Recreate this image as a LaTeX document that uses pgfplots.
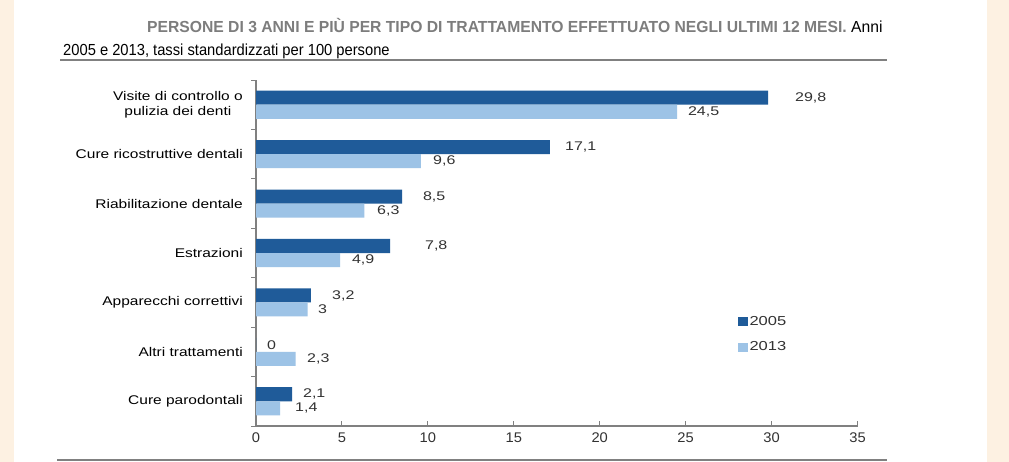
\documentclass[border=0pt]{standalone}
\usepackage{fontspec}
\setmainfont{Liberation Sans}
\newfontfamily\labfont[FakeStretch=1.23]{Liberation Sans}
\newfontfamily\valfont[FakeStretch=1.27]{Liberation Sans}
\newfontfamily\tickfont[FakeStretch=1.05]{Liberation Sans}
\newfontfamily\titfont[FakeStretch=0.98]{Liberation Sans}
\newfontfamily\subfont[FakeStretch=0.92]{Liberation Sans}
\usepackage{pgfplots}
\pgfplotsset{compat=1.18}
\usepackage{pgfplotstable}
\definecolor{darkbar}{RGB}{31,91,153}
\definecolor{lightbar}{RGB}{157,195,230}
\definecolor{cream}{RGB}{253,241,226}
\definecolor{rulegray}{RGB}{128,128,128}
\definecolor{labgray}{RGB}{50,50,50}
\definecolor{titgray}{RGB}{125,125,125}

\pgfplotstableread{
y v
0 2.1
1 0
2 3.2
3 7.8
4 8.5
5 17.1
6 29.8
}\datadue

\pgfplotstableread{
y v
0 1.4
1 2.3
2 3.0
3 4.9
4 6.3
5 9.6
6 24.5
}\datatre

\pgfplotstableread{
x y lab
2.73 0.142 2,1
0.64 1.142 0
4.42 2.142 3,2
9.83 3.142 7,8
9.71 4.142 8,5
17.98 5.142 17,1
31.36 6.142 29,8
}\labdue

\pgfplotstableread{
x y lab
2.27 -0.142 1,4
2.97 0.858 2,3
3.61 1.858 3
5.58 2.858 4,9
7.04 3.858 6,3
10.30 4.858 9,6
25.13 5.858 24,5
}\labtre

\begin{document}
\begin{tikzpicture}[x=1pt,y=1pt]
\fill[cream] (0,0) rectangle (1009,-462);
\fill[white] (14,0) rectangle (987,-462);
\node[anchor=base west, inner sep=0pt, font=\titfont\fontsize{16}{19}\selectfont] at (147,-33)
  {\textcolor{titgray}{\bfseries PERSONE DI 3 ANNI E PIÙ PER TIPO DI TRATTAMENTO EFFETTUATO NEGLI ULTIMI 12 MESI.} Anni};
\node[anchor=base west, inner sep=0pt, font=\subfont\fontsize{16}{19}\selectfont] at (63,-56)
  {2005 e 2013, tassi standardizzati per 100 persone};
\draw[rulegray, line width=2pt] (60,-60) -- (887,-60);
\draw[rulegray, line width=2pt] (57,-460) -- (887,-460);

\begin{axis}[
  at={(256pt,-426pt)}, anchor=south west,
  width=601.5pt, height=346pt, scale only axis,
  xmin=0, xmax=35, ymin=-0.5, ymax=6.5,
  axis lines*=left,
  axis line style={rulegray, line width=1.3pt},
  tick align=inside,
  major tick length=5pt,
  every tick/.style={rulegray, line width=1pt},
  xtick={0,5,...,35},
  ytick={-0.5,0.5,...,6.5},
  yticklabels={},
  ytick style={xshift=-5pt},
  extra y ticks={0,1,2,3,4,5,6},
  extra y tick labels={{Cure parodontali},{Altri trattamenti},{Apparecchi correttivi},{Estrazioni},{Riabilitazione dentale},{Cure ricostruttive dentali},{Visite di controllo o\\pulizia dei denti}},
  extra y tick style={major tick length=0pt, yticklabel style={align=center, inner sep=0pt, xshift=-13pt, font=\labfont\fontsize{12.6}{15}\selectfont, text=black}},
  /pgf/number format/assume math mode=true,
  xticklabel style={font=\tickfont\fontsize{14}{16}\selectfont, text=labgray, yshift=-3pt},
  legend style={at={(0.801,0.322)}, anchor=north west, draw=none, fill=none,
    inner sep=0pt, row sep=12pt, font=\valfont\fontsize{13}{15}\selectfont, text=labgray,
    nodes={inner sep=1.5pt, xshift=2pt}},
  legend cell align=left,
  legend image code/.code={\fill[#1] (0pt,-4.5pt) rectangle (10pt,4.5pt);},
]
\addplot[xbar, bar width=0.284, bar shift=0.142, fill=darkbar, draw=none] table[x=v,y=y] {\datadue};
\addlegendentry{2005}
\addplot[xbar, bar width=0.284, bar shift=-0.142, fill=lightbar, draw=none] table[x=v,y=y] {\datatre};
\addlegendentry{2013}
\addplot[only marks, mark=none, forget plot, nodes near coords, point meta=explicit symbolic,
  nodes near coords align={anchor=west},
  every node near coord/.append style={anchor=west, inner sep=0pt, font=\valfont\fontsize{12.6}{15}\selectfont, text=labgray}]
  table[x=x,y=y,meta=lab] {\labdue};
\addplot[only marks, mark=none, forget plot, nodes near coords, point meta=explicit symbolic,
  nodes near coords align={anchor=west},
  every node near coord/.append style={anchor=west, inner sep=0pt, font=\valfont\fontsize{12.6}{15}\selectfont, text=labgray}]
  table[x=x,y=y,meta=lab] {\labtre};
\end{axis}
\end{tikzpicture}
\end{document}
